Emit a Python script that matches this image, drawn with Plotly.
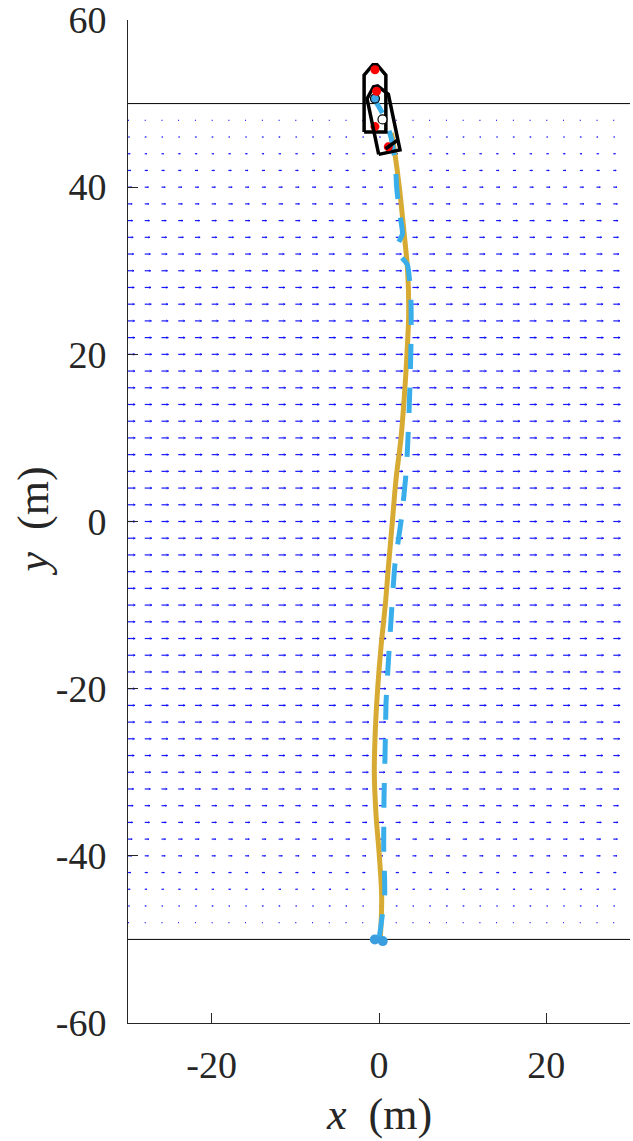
import numpy as np
import plotly.graph_objects as go

# ---------------- data ----------------
# current field grid (arrows point in +x, magnitude depends on row)
field_x = list(range(-30, 29, 2))
field_y = list(range(-48, 49, 2))
field_u = [0.10, 0.18, 0.26, 0.35, 0.45, 0.50, 0.57, 0.62, 0.68, 0.72,
           0.75, 0.78, 0.80, 0.82, 0.84, 0.84, 0.85, 0.85, 0.85, 0.86,
           0.86, 0.86, 0.86, 0.86, 0.86, 0.86, 0.86, 0.86, 0.86, 0.86,
           0.85, 0.85, 0.85, 0.84, 0.84, 0.82, 0.80, 0.78, 0.75, 0.72,
           0.68, 0.62, 0.57, 0.50, 0.45, 0.35, 0.26, 0.18, 0.10]

# corridor boundaries
boundary_y = [50, -50]

# actual trajectory (solid yellow)
traj_y = [-50, -45, -40, -35, -30, -25, -20, -15, -10, -5, 0, 5, 10, 15,
          20, 25, 30, 35, 40, 44, 46.5]
traj_x = [0.15, 0.32, 0.04, -0.36, -0.56, -0.44, -0.16, 0.24, 0.75, 1.16,
          1.6, 2.03, 2.63, 3.03, 3.34, 3.55, 3.42, 2.95, 2.43, 1.9, 1.5]

# reference path (dashed blue)
ref_y = [-50, -44.6, -39, -33, -28, -21.7, -16.6, -10.8, -5.2, 0.5, 6.2, 12,
         17.6, 23, 27, 30.7, 31.6, 32.2, 32.9, 34.4, 37.3, 40.1, 43.0, 45.9,
         48.5, 50.35]
ref_x = [0.0, 0.68, 0.56, 0.6, 0.72, 0.84, 1.13, 1.5, 1.9, 2.7, 3.27, 3.55,
         3.74, 3.85, 3.8, 3.4, 2.7, 2.1, 2.1, 2.8, 2.4, 2.1, 1.95, 1.45,
         0.6, -0.44]

# start markers
start_x = [-0.5, 0.45]
start_y = [-50.0, -50.2]

# vessel poses: centre x, centre y, heading (deg, CCW from +y)
boat_x = [-0.48, 0.42]
boat_y = [50.6, 48.1]
boat_psi = [0.0, 11.8]
boat_centre_fill = ["#3DA5E6", "white"]
# hull outline in body frame (lateral u, forward v)
hull_u = [-1.3, 1.3, 1.3, 0.25, -0.25, -1.3, -1.3]
hull_v = [-4.0, -4.0, 2.8, 4.05, 4.05, 2.8, -4.0]
# thruster positions along body axis
thr_v = [3.45, -3.35]
# rear thrust direction (deg from +x world) and length for second vessel
thrust_ang = [36.0]
thrust_len = [1.3]

# ---------------- figure ----------------
fig = go.Figure()

# quiver field
sx, sy, hx, hy = [], [], [], []
for yy, uu in zip(field_y, field_u):
    for xx in field_x:
        tip = xx + uu
        sx += [xx, tip, None]
        sy += [yy, yy, None]
        h = 0.3 * uu
        w = 0.15 * uu
        hx += [tip - h, tip, tip - h, None]
        hy += [yy + w, yy, yy - w, None]
fig.add_trace(go.Scatter(x=sx, y=sy, mode="lines",
                         line=dict(color="rgba(0,0,255,0.9)", width=1.2),
                         hoverinfo="skip", showlegend=False))
fig.add_trace(go.Scatter(x=hx, y=hy, mode="lines",
                         line=dict(color="rgba(0,0,255,0.6)", width=1),
                         hoverinfo="skip", showlegend=False))

# corridor boundaries
for by in boundary_y:
    fig.add_trace(go.Scatter(x=[-30, 30], y=[by, by], mode="lines",
                             line=dict(color="black", width=1),
                             hoverinfo="skip", showlegend=False))

# trajectory
fig.add_trace(go.Scatter(x=traj_x, y=traj_y, mode="lines",
                         line=dict(color="#D6AA33", width=5, shape="spline"),
                         showlegend=False))
# reference
fig.add_trace(go.Scatter(x=ref_x, y=ref_y, mode="lines",
                         line=dict(color="#3AAEEA", width=5, dash="25px,19px",
                                   shape="spline", smoothing=0.5),
                         showlegend=False))
fig.add_trace(go.Scatter(x=start_x, y=start_y, mode="markers",
                         marker=dict(color="#3A9EDF", size=10),
                         showlegend=False))

# vessels
for bx, by, psi, fillc in zip(boat_x, boat_y, boat_psi, boat_centre_fill):
    t = np.deg2rad(psi)
    fu = np.array([np.cos(t), np.sin(t)])
    fv = np.array([-np.sin(t), np.cos(t)])
    px = [bx + u * fu[0] + v * fv[0] for u, v in zip(hull_u, hull_v)]
    py = [by + u * fu[1] + v * fv[1] for u, v in zip(hull_u, hull_v)]
    fig.add_trace(go.Scatter(x=px, y=py, mode="lines",
                             line=dict(color="black", width=3.5),
                             showlegend=False))
    dx = [bx + v * fv[0] for v in thr_v]
    dy = [by + v * fv[1] for v in thr_v]
    fig.add_trace(go.Scatter(x=dx, y=dy, mode="markers",
                             marker=dict(color="red", size=9),
                             showlegend=False))
    fig.add_trace(go.Scatter(x=[bx], y=[by], mode="markers",
                             marker=dict(color=fillc, size=9,
                                         line=dict(color="black", width=1.2)),
                             showlegend=False))
    if psi != 0:
        rx, ry = dx[1], dy[1]
        for a, L in zip(thrust_ang, thrust_len):
            ar = np.deg2rad(a)
            fig.add_trace(go.Scatter(x=[rx - 0.3 * L * np.cos(ar), rx + L * np.cos(ar)],
                                     y=[ry - 0.3 * L * np.sin(ar), ry + L * np.sin(ar)],
                                     mode="lines", line=dict(color="black", width=3.5),
                                     showlegend=False))

FONT = "Liberation Serif"
TFONT = dict(family=FONT, size=38, color="#262626")
LFONT = dict(family=FONT, size=44, color="#262626")
fig.update_layout(
    width=633, height=1141,
    margin=dict(l=128, r=3, t=20, b=118, autoexpand=False),
    paper_bgcolor="white", plot_bgcolor="white",
    font=TFONT,
    showlegend=False,
)
fig.update_xaxes(range=[-30, 30], tickvals=[-20, 0, 20],
                 ticktext=["-20", "0", "20"], tickfont=TFONT,
                 ticks="inside", ticklen=10, tickwidth=1, tickcolor="#262626",
                 showline=True, linecolor="#262626", linewidth=1,
                 showgrid=False, zeroline=False, mirror=False,
                 automargin=False, ticklabelstandoff=8,
                 ticklabeloverflow="allow")
fig.update_yaxes(range=[-60, 60], tickvals=[-60, -40, -20, 0, 20, 40, 60],
                 ticktext=["-60", "-40", "-20", "0", "20", "40", "60"],
                 tickfont=TFONT,
                 ticks="inside", ticklen=10, tickwidth=1, tickcolor="#262626",
                 showline=True, linecolor="#262626", linewidth=1,
                 showgrid=False, zeroline=False, mirror=False,
                 automargin=False, ticklabelstandoff=13,
                 ticklabeloverflow="allow")

fig.add_annotation(text="<i>x</i>&nbsp;&nbsp;(m)", xref="paper", yref="paper",
                   x=0.5, y=0, yshift=-91, xanchor="center", yanchor="middle",
                   showarrow=False, font=LFONT)
fig.add_annotation(text="<i>y</i>&nbsp;&nbsp;(m)", xref="paper", yref="paper",
                   x=0, y=0.5, xshift=-95, xanchor="center", yanchor="middle",
                   textangle=-90, showarrow=False, font=LFONT)

fig.write_html("out.html", config={"displayModeBar": False},
               post_script="document.body.style.margin='0';")
